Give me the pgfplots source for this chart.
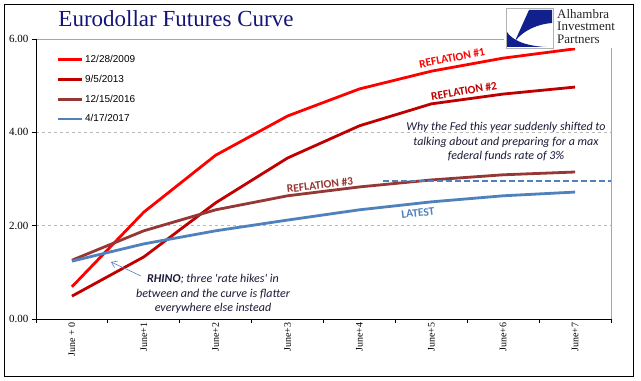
\documentclass[border=0pt]{standalone}
\usepackage{fontspec}
\setmainfont{Liberation Serif}
\newfontfamily\carlito{Carlito}
\newfontfamily\arialf{Liberation Sans}
\usepackage{pgfplots}
\pgfplotsset{compat=1.18}
\usetikzlibrary{arrows.meta}
\definecolor{cA}{RGB}{255,0,0}
\definecolor{cB}{RGB}{192,0,0}
\definecolor{cC}{RGB}{150,55,53}
\definecolor{cD}{RGB}{79,129,189}
\definecolor{titleblue}{RGB}{20,20,120}
\definecolor{notetext}{RGB}{25,25,55}
\definecolor{logoblue}{RGB}{18,32,140}
\begin{document}
\begin{tikzpicture}
\useasboundingbox (0,0) rectangle (641bp,381bp);
\fill[white] (0,0) rectangle (641bp,381bp);
\begin{axis}[
  at={(36bp,62bp)}, anchor=south west,
  scale only axis, width=575bp, height=280bp,
  xmin=-0.5, xmax=7.5, ymin=0, ymax=6,
  axis line style={draw=none},
  tick align=outside, tick pos=left,
  major tick length=4bp,
  tick style={black, line width=0.8bp},
  xtick={-0.5,0.5,1.5,2.5,3.5,4.5,5.5,6.5,7.5},
  xticklabels={},
  extra x ticks={0,1,2,3,4,5,6,7},
  extra x tick labels={June + 0,June+1,June+2,June+3,June+4,June+5,June+6,June+7},
  extra x tick style={major tick length=0pt},
  xticklabel style={rotate=90, anchor=east, font=\fontsize{10bp}{12bp}\selectfont},
  ytick={0,2,4,6},
  yticklabel style={/pgf/number format/.cd, fixed, fixed zerofill, precision=2, /tikz/.cd, font=\fontsize{11bp}{13bp}\selectfont},
  /pgf/number format/assume math mode=true,
  ymajorgrids, grid style={gray!55, dashed, line width=0.5bp},
  clip=false,
  legend style={draw=none, fill=none, at={(rel axis cs:0.035,0.949)}, anchor=north west,
    font=\arialf\fontsize{10bp}{12bp}\selectfont, row sep=7bp, inner sep=0pt},
  legend cell align=left,
  legend image code/.code={\draw[#1] (0bp,0bp) -- (24bp,0bp);},
]
\addplot[cA, line width=2.8bp] coordinates {(0,0.69)(1,2.29)(2,3.51)(3,4.35)(4,4.93)(5,5.31)(6,5.59)(7,5.79)};
\addlegendentry{12/28/2009}
\addplot[cB, line width=2.8bp] coordinates {(0,0.49)(1,1.33)(2,2.49)(3,3.45)(4,4.14)(5,4.61)(6,4.82)(7,4.97)};
\addlegendentry{9/5/2013}
\addplot[cC, line width=2.8bp] coordinates {(0,1.26)(1,1.89)(2,2.34)(3,2.64)(4,2.83)(5,2.98)(6,3.09)(7,3.15)};
\addlegendentry{12/15/2016}
\addplot[cD, line width=2.8bp] coordinates {(0,1.24)(1,1.61)(2,1.89)(3,2.12)(4,2.34)(5,2.51)(6,2.64)(7,2.72)};
\addlegendentry{4/17/2017}
\addplot[cD, dash pattern=on 6bp off 3bp, line width=1.5bp, forget plot] coordinates {(4.33,2.96)(7.5,2.96)};
\draw[gray!70, line width=0.8bp] (rel axis cs:0,1) -- (rel axis cs:1,1) -- (rel axis cs:1,0);
\draw[black, line width=0.8bp] (rel axis cs:0,1) -- (rel axis cs:0,0) -- (rel axis cs:1,0);
\end{axis}
\begin{scope}[shift={(0,381bp)}, x=1bp, y=-1bp]
\draw[black, line width=1bp] (4.5,4.5) rectangle (633,376.5);
\node[anchor=base, text=titleblue, font=\fontsize{23bp}{26bp}\selectfont] at (176,27) {Eurodollar Futures Curve};
% logo
\fill[white] (504,5) rectangle (632,48);
\draw[gray!60, line width=0.6bp] (506,8) rectangle (553,48);
\fill[logoblue] (529,10) -- (552,10) -- (552,23) .. controls (538,24) and (524,30) .. (515,41) -- cycle;
\fill[logoblue] (507,32) .. controls (512,40) and (525,46) .. (546,47) -- (507,47) -- cycle;
\node[anchor=north west, align=left, inner sep=0pt, text=black!85, font=\fontsize{13bp}{12.5bp}\selectfont] at (557,9) {Alhambra\\Investment\\Partners};
% annotations
\node[rotate=11, text=cA, font=\carlito\bfseries\fontsize{11.5bp}{13bp}\selectfont] at (452,58) {REFLATION \#1};
\node[rotate=10, text=cB, font=\carlito\bfseries\fontsize{11.5bp}{13bp}\selectfont] at (464,91) {REFLATION \#2};
\node[rotate=7, text=cC, font=\carlito\bfseries\fontsize{11.5bp}{13bp}\selectfont] at (320,185) {REFLATION \#3};
\node[rotate=6, text=cD, font=\carlito\bfseries\fontsize{11.5bp}{13bp}\selectfont] at (418,213) {LATEST};
\node[align=center, text=notetext, font=\carlito\itshape\fontsize{12bp}{14.5bp}\selectfont] at (506,142) {Why the Fed this year suddenly shifted to\\talking about and preparing for a max\\federal funds rate of 3\%};
\node[align=center, text=notetext, font=\carlito\itshape\fontsize{12bp}{14.5bp}\selectfont] at (213,294) {\textbf{RHINO}; three \textquotesingle rate hikes\textquotesingle\ in\\between and the curve is flatter\\everywhere else instead};
\draw[cD, line width=0.6bp, -{Straight Barb[length=5bp,width=7bp]}] (141,276) -- (111,262);
\end{scope}
\end{tikzpicture}
\end{document}
